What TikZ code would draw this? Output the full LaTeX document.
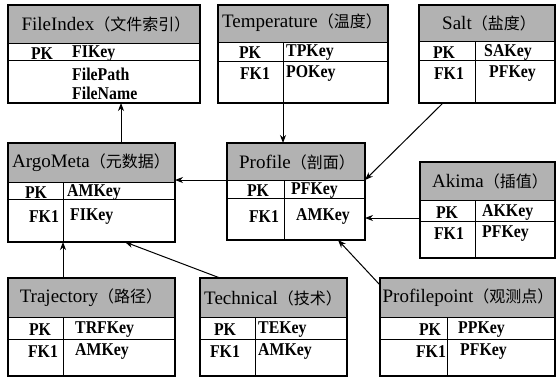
\documentclass[tikz,border=0pt]{standalone}
\usepackage{fontspec}
\setmainfont{Liberation Serif}
\newfontfamily\erser[FakeStretch=0.88]{Liberation Serif}
\newfontfamily\erttl{Liberation Serif}
\newfontfamily\ercjk{Noto Sans CJK SC}
\usetikzlibrary{arrows.meta}
\newcommand\ertab[7]{%
  \fill[hdrfill] (#2,#3) rectangle (#4,#6);
  \draw[rowline] (#2,#6) -- (#4,#6) (#2,#7) -- (#4,#7);
  \pgfmathsetmacro\ertw{#4-#2}\pgfmathsetmacro\erth{#5-#3}%
  \node[tblbox, minimum width=\ertw pt, minimum height=\erth pt] (#1) at (#2,#3) {};
}
\newcommand\ertitle[2]{{\erttl\fontsize{19}{19}\selectfont #1}{\ercjk\fontsize{16}{16}\selectfont （#2）}}
\tikzset{
  hdrfill/.style={fill=black!30},
  rowline/.style={line width=1pt},
  tblbox/.style={draw, line width=1.1pt, anchor=north west, inner sep=0pt, outer sep=0pt},
  ttl/.style={inner sep=0pt, anchor=center},
  keytxt/.style={inner sep=0pt, yshift=-1.5pt, font=\erser\bfseries\fontsize{18}{18}\selectfont},
  kc/.style={keytxt, anchor=center},
  kw/.style={keytxt, anchor=west},
  arr/.style={line width=1pt, -{Stealth[length=8pt,width=6pt,inset=2.5pt]}},
}
\begin{document}
\begin{tikzpicture}[x=1pt,y=-1pt]
\useasboundingbox (0,0) rectangle (556,378);
% tables: name x1 y1 x2 y2 header-bottom pk-bottom
\ertab{fi}{8}{5}{200}{103}{43}{60}
\ertab{tp}{218}{5}{388}{103}{42}{61}
\draw[rowline] (283,42) -- (283,103);
\ertab{sa}{419}{5}{555}{103}{41}{60}
\draw[rowline] (475,41) -- (475,103);
\ertab{am}{8}{143}{175}{242}{182}{199}
\draw[rowline] (63,182) -- (63,242);
\ertab{pf}{227}{143}{365}{240}{180}{198}
\draw[rowline] (284,180) -- (284,240);
\ertab{ak}{420}{162}{555}{258}{200}{221}
\draw[rowline] (475,200) -- (475,258);
\ertab{tj}{8}{278}{175}{376}{317}{339}
\draw[rowline] (63,317) -- (63,376);
\ertab{te}{200}{278}{347}{376}{317}{339}
\draw[rowline] (255,317) -- (255,376);
\ertab{pp}{380}{278}{555}{376}{317}{339}
\draw[rowline] (447,317) -- (447,376);
% titles
\node[ttl] (fi-t) at (106,24) {\ertitle{FileIndex}{文件索引}};
\node[ttl] (tp-t) at (302,23) {\ertitle{Temperature}{温度}};
\node[ttl] (sa-t) at (489,23) {\ertitle{Salt}{盐度}};
\node[ttl] (am-t) at (91,163) {\ertitle{ArgoMeta}{元数据}};
\node[ttl] (pf-t) at (297,162) {\ertitle{Profile}{剖面}};
\node[ttl] (ak-t) at (490,181) {\ertitle{Akima}{插值}};
\node[ttl] (tj-t) at (91,298) {\ertitle{Trajectory}{路径}};
\node[ttl] (te-t) at (273,298) {\ertitle{Technical}{技术}};
\node[ttl] (pp-t) at (468,298) {\ertitle{Profilepoint}{观测点}};
% keys
\node[kc] (fi-pk) at (42,52) {PK};
\node[kw] (fi-k) at (72,52) {FIKey};
\node[kw] (fi-a) at (72,73) {FilePath};
\node[kw] (fi-b) at (72,92) {FileName};
\node[kc] (tp-pk) at (250,51) {PK};
\node[kw] (tp-k) at (286,51) {TPKey};
\node[kc] (tp-fk) at (255,72) {FK1};
\node[kw] (tp-f) at (286,72) {POKey};
\node[kc] (sa-pk) at (444,51) {PK};
\node[kw] (sa-k) at (484,51) {SAKey};
\node[kc] (sa-fk) at (449,72) {FK1};
\node[kw] (sa-f) at (489,72) {PFKey};
\node[kc] (am-pk) at (36,191) {PK};
\node[kw] (am-k) at (67,191) {AMKey};
\node[kc] (am-fk) at (44,215) {FK1};
\node[kw] (am-f) at (70,215) {FIKey};
\node[kc] (pf-pk) at (258,189) {PK};
\node[kw] (pf-k) at (291,189) {PFKey};
\node[kc] (pf-fk) at (264,215) {FK1};
\node[kw] (pf-f) at (296,215) {AMKey};
\node[kc] (ak-pk) at (447,211) {PK};
\node[kw] (ak-k) at (482,211) {AKKey};
\node[kc] (ak-fk) at (449,232) {FK1};
\node[kw] (ak-f) at (482,232) {PFKey};
\node[kc] (tj-pk) at (40,328) {PK};
\node[kw] (tj-k) at (75,328) {TRFKey};
\node[kc] (tj-fk) at (43,350) {FK1};
\node[kw] (tj-f) at (75,350) {AMKey};
\node[kc] (te-pk) at (225,328) {PK};
\node[kw] (te-k) at (258,328) {TEKey};
\node[kc] (te-fk) at (225,350) {FK1};
\node[kw] (te-f) at (258,350) {AMKey};
\node[kc] (pp-pk) at (430,328) {PK};
\node[kw] (pp-k) at (458,328) {PPKey};
\node[kc] (pp-fk) at (431,350) {FK1};
\node[kw] (pp-f) at (460,350) {PFKey};
% connectors
\draw[arr] ([xshift=113pt]am.north west) -- ([xshift=113pt]fi.south west);
\draw[arr] ([xshift=65pt]tp.south west) -- ([xshift=56pt]pf.north west);
\draw[arr] ([xshift=24pt]sa.south west) -- ([yshift=-37pt]pf.north east);
\draw[arr] ([yshift=-37pt]pf.north west) -- ([yshift=-37pt]am.north east);
\draw[arr] ([yshift=-56pt]ak.north west) -- ([yshift=-75pt]pf.north east);
\draw[arr] ([xshift=55pt]tj.north west) -- ([xshift=55pt]am.south west);
\draw[arr] ([xshift=20pt]te.north west) -- ([xshift=117pt]am.south west);
\draw[arr] ([yshift=-7pt]pp.north west) -- ([xshift=111pt]pf.south west);
\end{tikzpicture}
\end{document}
